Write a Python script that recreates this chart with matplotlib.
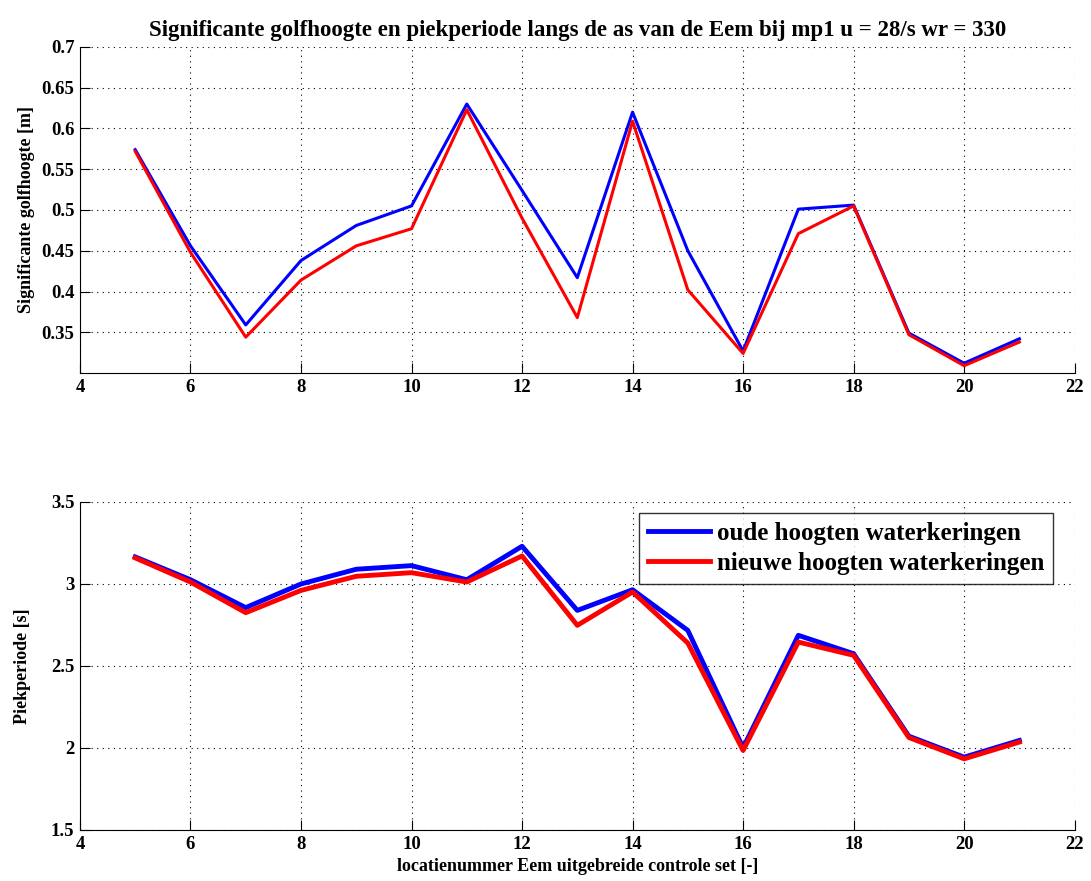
import matplotlib.pyplot as plt

plt.rcParams['font.family'] = ['Liberation Serif', 'DejaVu Serif']
plt.rcParams['font.weight'] = 'bold'
plt.rcParams['axes.titleweight'] = 'bold'
plt.rcParams['axes.labelweight'] = 'bold'

locaties = list(range(5, 22))

# significante golfhoogte [m]
hs_oud = [0.574, 0.456, 0.359, 0.438, 0.481, 0.505, 0.630, 0.524, 0.417,
          0.620, 0.450, 0.327, 0.501, 0.506, 0.349, 0.312, 0.342]
hs_nieuw = [0.572, 0.448, 0.344, 0.414, 0.456, 0.477, 0.623, 0.490, 0.368,
            0.609, 0.402, 0.324, 0.471, 0.505, 0.347, 0.309, 0.338]

# piekperiode [s]
tp_oud = [3.165, 3.026, 2.856, 3.000, 3.090, 3.112, 3.026, 3.230, 2.839,
          2.965, 2.717, 2.001, 2.687, 2.575, 2.072, 1.944, 2.046]
tp_nieuw = [3.159, 3.012, 2.825, 2.961, 3.047, 3.069, 3.012, 3.171, 2.748,
            2.951, 2.640, 1.985, 2.646, 2.565, 2.064, 1.934, 2.036]

hs_ticks = [0.35, 0.4, 0.45, 0.5, 0.55, 0.6, 0.65, 0.7]
tp_ticks = [1.5, 2, 2.5, 3, 3.5]
x_ticks = list(range(4, 23, 2))

fig = plt.figure(figsize=(10.91, 8.81), dpi=100)
ax1 = fig.add_axes([0.0733, 0.5766, 0.9117, 0.3701])
ax2 = fig.add_axes([0.0733, 0.0579, 0.9117, 0.3723])


def matlab_style(ax):
    ax.spines['top'].set_visible(False)
    ax.spines['right'].set_visible(False)
    for s in ('left', 'bottom'):
        ax.spines[s].set_linewidth(0.8)
    ax.grid(True, linestyle=(0, (1, 4)), color='black', linewidth=0.8)
    ax.tick_params(direction='in', length=7, width=0.8, labelsize=13.5,
                   pad=4)
    ax.set_xlim(4, 22)
    ax.set_xticks(x_ticks)


ax1.plot(locaties, hs_oud, color='#0000ff', lw=2.2)
ax1.plot(locaties, hs_nieuw, color='#ff0000', lw=2.2)
matlab_style(ax1)
ax1.set_ylim(0.3, 0.7)
ax1.set_yticks(hs_ticks)
ax1.set_yticklabels([f'{v:g}' for v in hs_ticks])
ax1.set_ylabel('Significante golfhoogte [m]', fontsize=13, labelpad=5)
ax1.set_title('Significante golfhoogte en piekperiode langs de as van de Eem '
              'bij mp1 u = 28/s wr = 330', fontsize=16.5, pad=8)

ax2.plot(locaties, tp_oud, color='#0000ff', lw=3.5,
         label='oude hoogten waterkeringen')
ax2.plot(locaties, tp_nieuw, color='#ff0000', lw=3.5,
         label='nieuwe hoogten waterkeringen')
matlab_style(ax2)
ax2.set_ylim(1.5, 3.5)
ax2.set_yticks(tp_ticks)
ax2.set_yticklabels([f'{v:g}' for v in tp_ticks])
ax2.set_ylabel('Piekperiode [s]', fontsize=13, labelpad=14)
ax2.set_xlabel('locatienummer Eem uitgebreide controle set [-]', fontsize=13,
               labelpad=4)

leg = ax2.legend(loc='upper right', bbox_to_anchor=(0.978, 0.967),
                 fontsize=18, frameon=True, fancybox=False,
                 edgecolor='black', handlelength=2.5, handletextpad=0.25,
                 borderpad=0.35, labelspacing=0.3, borderaxespad=0)
leg.get_frame().set_linewidth(1.0)

fig.savefig('out.png', dpi=100, facecolor='white')
